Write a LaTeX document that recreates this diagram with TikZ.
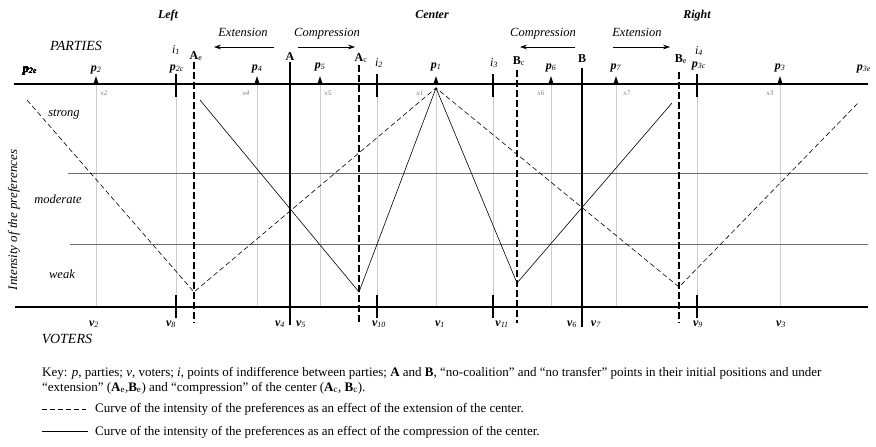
\documentclass[tikz,border=0pt]{standalone}
\usepackage{fontspec}
\setmainfont{Liberation Serif}
\usetikzlibrary{arrows.meta,positioning,calc}
\definecolor{lvlgray}{RGB}{110,110,110}
\definecolor{gdegray}{RGB}{205,205,205}
\definecolor{xgray}{RGB}{120,120,120}
\newcommand{\pl}[2]{\textbf{\textit{#1}}\textsubscript{\textit{#2}}}
\newcommand{\Lb}[2]{\textbf{#1}\textsubscript{#2}}
\newcommand{\pmark}[1]{%
  \fill (#1-2.6,84) -- (#1,76) -- (#1+2.6,84) -- cycle;}
\tikzset{
  axl/.style={line width=1.8pt},
  lvl/.style={lvlgray, line width=0.6pt},
  gde/.style={gdegray, line width=0.4pt},
  ncs/.style={line width=1.8pt},
  nce/.style={line width=2.6pt, dash pattern=on 7pt off 3pt},
  itk/.style={line width=1.4pt},
  crvd/.style={line width=0.6pt, dash pattern=on 5pt off 3pt},
  crvs/.style={line width=0.6pt},
  marr/.style={-{Stealth[length=2.4mm,width=1.6mm]}, line width=0.5pt},
  plab/.style={font=\fontsize{12}{12}\selectfont, anchor=base, inner sep=0pt},
  vlab/.style={font=\fontsize{12}{12}\selectfont, anchor=base, inner sep=0pt},
  xlab/.style={font=\fontsize{7}{7}\selectfont\itshape, text=xgray, inner sep=0pt},
  ttl/.style={font=\fontsize{12}{12}\selectfont\bfseries\itshape, anchor=base, inner sep=0pt},
  side/.style={font=\fontsize{14}{14}\selectfont\itshape, anchor=base, inner sep=0pt},
  mov/.style={font=\fontsize{12.5}{12.5}\selectfont\itshape, anchor=base, inner sep=0pt},
  lev/.style={font=\fontsize{12.5}{12.5}\selectfont\itshape, anchor=base, inner sep=0pt},
  key/.style={font=\fontsize{13}{13}\selectfont, anchor=base west, inner sep=0pt},
}
\begin{document}
\begin{tikzpicture}[x=1pt,y=-1pt]
\useasboundingbox (0,0) rectangle (876,447);
% guide lines under parties and indifference points
\foreach \gx in {96,176,257,320,377,436,493,551,616,697,780}
  \draw[gde] (\gx,84) -- (\gx,307);
% levels of intensity
\coordinate (lvA) at (68,173);  \coordinate (lvAe) at (868,173);
\coordinate (lvB) at (70,244);  \coordinate (lvBe) at (868,244);
\draw[lvl] (lvA) -- (lvAe);
\draw[lvl] (lvB) -- (lvBe);
% axes
\coordinate (axP) at (14,84);   \coordinate (axPe) at (868,84);
\coordinate (axV) at (15,307);  \coordinate (axVe) at (868,307);
\draw[axl] (axP) -- (axPe);
\draw[axl] (axV) -- (axVe);
% no-coalition points
\draw[ncs] (290,62) -- (290,325);
\draw[ncs] (582,68) -- (582,327);
\foreach \bx/\by in {194/62,359/65,517/70,679/72}
  \draw[nce] (\bx,\by) -- (\bx,323);
% indifference ticks
\foreach \ix in {176,377,493,697}{
  \draw[itk] (\ix,74) -- (\ix,97);
  \draw[itk] (\ix,295) -- (\ix,318);}
% parties
\foreach \px in {96,257,320,436,551,616,780}
  \pmark{\px}
\node[plab] (p2e) at (30,72) {\pl{p}{2e}};
\node[plab] (p2) at (96,71) {\pl{p}{2}};
\node[plab] (p2c) at (177,70) {\pl{p}{2c}};
\node[plab] (i1) at (176,53) {\textit{i}\textsubscript{\textit{1}}};
\node[plab] (p4) at (257,70) {\pl{p}{4}};
\node[plab] (p5) at (320,68) {\pl{p}{5}};
\node[plab] (i2) at (379,66) {\textit{i}\textsubscript{\textit{2}}};
\node[plab] (p1) at (436,68) {\pl{p}{1}};
\node[plab] (i3) at (494,66) {\textit{i}\textsubscript{\textit{3}}};
\node[plab] (p6) at (551,69) {\pl{p}{6}};
\node[plab] (p7) at (616,69) {\pl{p}{7}};
\node[plab] (i4) at (699,54) {\textit{i}\textsubscript{\textit{4}}};
\node[plab] (p3c) at (699,67) {\pl{p}{3c}};
\node[plab] (p3) at (780,69) {\pl{p}{3}};
\node[plab] (p3e) at (864,70) {\pl{p}{3e}};
\node[plab] (Ae) at (196,59) {\Lb{A}{e}};
\node[plab] (A) at (290,60) {\textbf{A}};
\node[plab] (Ac) at (361,61) {\Lb{A}{c}};
\node[plab] (Bc) at (519,64) {\Lb{B}{c}};
\node[plab] (B) at (582,62) {\textbf{B}};
\node[plab] (Be) at (681,62) {\Lb{B}{e}};
% small x labels
\foreach \xx/\xn in {104/2,246/4,328/5,420/1,541/6,627/7,770/3}
  \node[xlab] (x\xn) at (\xx,93) {x\xn};
% voters
\foreach \vx/\vn in {94/2,171/8,280/4,301/5,379/10,440/1,502/11,572/6,596/7,698/9,781/3}
  \node[vlab] (v\vn) at (\vx,326) {\pl{v}{\vn}};
% titles
\node[ttl] (left) at (168,18) {Left};
\node[ttl] (center) at (432,19) {Center};
\node[ttl] (right) at (697,19) {Right};
\node[side] (parties) at (76,50) {PARTIES};
\node[side] (voters) at (67,343) {VOTERS};
% shifts of A and B
\node[mov] (extL) at (243,36) {Extension};
\node[mov] (cmpL) at (327,36) {Compression};
\node[mov] (cmpR) at (543,36) {Compression};
\node[mov] (extR) at (637,36) {Extension};
\coordinate (eLa) at (274,47); \coordinate (eLb) at (214,47);
\coordinate (cLa) at (298,47); \coordinate (cLb) at (355,47);
\coordinate (cRa) at (575,47); \coordinate (cRb) at (520,47);
\coordinate (eRa) at (613,47); \coordinate (eRb) at (670,47);
\draw[marr] (eLa) -- (eLb);
\draw[marr] (cLa) -- (cLb);
\draw[marr] (cRa) -- (cRb);
\draw[marr] (eRa) -- (eRb);
% intensity levels
\node[lev] (strong) at (64,116) {strong};
\node[lev] (moderate) at (58,203) {moderate};
\node[lev] (weak) at (62,278) {weak};
\node[font=\fontsize{13}{13}\selectfont\itshape, rotate=90] (intens) at (14,220) {Intensity of the preferences};
% curves of intensity
\coordinate (dL) at (27,100);  \coordinate (dLo) at (194,292);
\coordinate (top) at (436,88);
\coordinate (dRo) at (679,287); \coordinate (dR) at (858,103);
\coordinate (sL) at (200,100); \coordinate (sLo) at (359,292);
\coordinate (sRo) at (517,283); \coordinate (sR) at (672,103);
\draw[crvd] (dL) -- (dLo) -- (top) -- (dRo) -- (dR);
\draw[crvs] (sL) -- (sLo) -- (top) -- (sRo) -- (sR);
% key
\node[key] (key1) at (42,376) {Key: \textit{p}, parties; \textit{v}, voters; \textit{i}, points of indifference between parties; \textbf{A} and \textbf{B}, “no-coalition” and “no transfer” points in their initial positions and under};
\node[key] (key2) at (42,391) {“extension” (\Lb{A}{e},\Lb{B}{e}) and “compression” of the center (\Lb{A}{c}, \Lb{B}{c}).};
\coordinate (kd) at (42,409); \coordinate (kde) at (86,409);
\coordinate (ks) at (42,431); \coordinate (kse) at (88,431);
\draw[crvd] (kd) -- (kde);
\draw[crvs] (ks) -- (kse);
\node[key] (key3) at (95,412) {Curve of the intensity of the preferences as an effect of the extension of the center.};
\node[key] (key4) at (95,435) {Curve of the intensity of the preferences as an effect of the compression of the center.};
\end{tikzpicture}
\end{document}
